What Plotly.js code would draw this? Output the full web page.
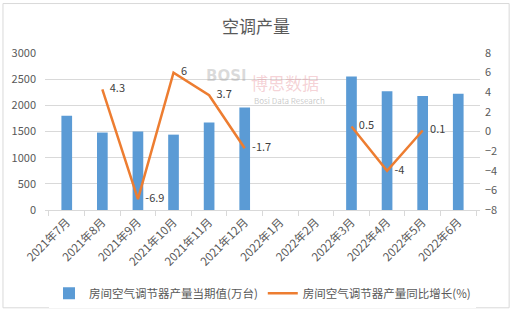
<!DOCTYPE html>
<html><head><meta charset="utf-8">
<script src="https://cdn.plot.ly/plotly-3.0.1.min.js"></script>
<style>html,body{margin:0;padding:0;background:#fff}#chart{width:512px;height:319px}</style>
</head><body><div id="chart"></div>
<script>
var categories = ["2021年7月","2021年8月","2021年9月","2021年10月","2021年11月","2021年12月","2022年1月","2022年2月","2022年3月","2022年4月","2022年5月","2022年6月"];
var outputValues = [1800, 1480, 1500, 1440, 1670, 1960, null, null, 2550, 2270, 2180, 2220];
var growthValues = [null, 4.3, -6.9, 6, 3.7, -1.7, null, null, 0.5, -4, 0.1, null];
var leftTicks = [0, 500, 1000, 1500, 2000, 2500, 3000];
var rightTicks = [-8, -6, -4, -2, 0, 2, 4, 6, 8];
var seriesNames = ["房间空气调节器产量当期值(万台)", "房间空气调节器产量同比增长(%)"];
var titleText = "空调产量";

var font = "'Noto Sans CJK SC', 'Noto Sans', sans-serif";
var pad = "\u00a0\u00a0\u00a0";
var data = [
  {type:"bar", x:categories, y:outputValues, name:seriesNames[0], marker:{color:"#5B9BD5"}, width:0.3, yaxis:"y"},
  {type:"scatter", mode:"lines+text", x:categories, y:growthValues, name:seriesNames[1], yaxis:"y2",
   line:{color:"#ED7D31", width:2.5}, connectgaps:false,
   text:growthValues.map(function(v){return v===null?"":pad+String(v);}),
   textposition:"middle right", textfont:{size:11, color:"#404040", family:font}, cliponaxis:false}
];
var layout = {
  width:512, height:319,
  margin:{l:45, r:32, t:53, b:104},
  paper_bgcolor:"#fff", plot_bgcolor:"#fff",
  font:{family:font, color:"#595959", size:11},
  title:{text:titleText, font:{size:17, color:"#595959", family:font}, x:0.5, xanchor:"center", y:0.915, yanchor:"middle"},
  showlegend:true,
  legend:{orientation:"h", x:0.5, xanchor:"center", y:-0.53, yanchor:"middle", font:{size:11.5, color:"#595959"}, itemwidth:30},
  bargap:0.7,
  xaxis:{type:"category", automargin:false, tickangle:-45, showgrid:false, showline:true, linecolor:"#d9d9d9", linewidth:1,
    ticks:"outside", ticklen:5, tickcolor:"#d9d9d9", tickson:"boundaries", tickfont:{size:11.5, color:"#595959"}},
  yaxis:{range:[0,3000], automargin:false, tickvals:leftTicks, showgrid:true, gridcolor:"#d9d9d9", zeroline:false, showline:false,
    tickfont:{size:11, color:"#595959"}, ticks:"", ticklabelstandoff:8},
  yaxis2:{range:[-8,8], automargin:false, tickvals:rightTicks, overlaying:"y", side:"right", showgrid:false, zeroline:false, showline:false,
    tickfont:{size:11, color:"#595959"}, ticks:"", ticklabelstandoff:4},
  annotations:[
    {xref:"paper", yref:"paper", x:0.47, y:0.855, text:"<b>BOSI</b>", showarrow:false, font:{size:15, color:"rgba(150,150,150,0.35)", family:"DejaVu Sans"}, xanchor:"right", yanchor:"middle"},
    {xref:"paper", yref:"paper", x:0.47, y:0.81, text:"博思数据", showarrow:false, font:{size:17, color:"rgba(230,140,150,0.4)"}, xanchor:"left", yanchor:"middle"},
    {xref:"paper", yref:"paper", x:0.475, y:0.7, text:"Bosi Data Research", showarrow:false, font:{size:8, color:"rgba(150,150,150,0.5)"}, xanchor:"left", yanchor:"middle"}
  ],
  shapes:[{type:"rect", xref:"paper", yref:"paper", x0:-0.0966, x1:1.067, y0:-0.623, y1:1.315, line:{color:"#d9d9d9", width:1}}]
};
Plotly.newPlot("chart", data, layout, {displayModeBar:false, staticPlot:true});
</script></body></html>
